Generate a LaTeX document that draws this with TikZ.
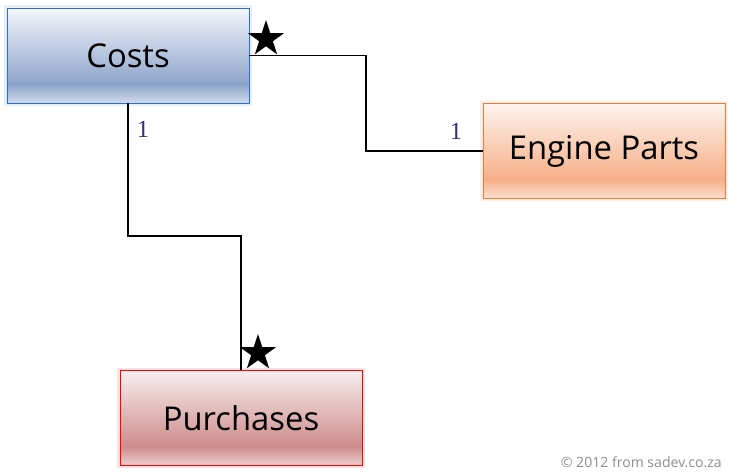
\documentclass[tikz,border=0pt]{standalone}
\usepackage{fontspec}
\setmainfont{Open Sans}
\newfontfamily\labelfont{Liberation Serif}
\usetikzlibrary{shapes.geometric}

\definecolor{costs_line}{HTML}{2A6FE0}
\definecolor{costs_top}{HTML}{F4F6FB}
\definecolor{costs_mid}{HTML}{8DA4CA}
\definecolor{costs_low}{HTML}{D3DBEA}
\definecolor{engine_line}{HTML}{F07A35}
\definecolor{engine_top}{HTML}{FEF4EE}
\definecolor{engine_mid}{HTML}{F6AF87}
\definecolor{engine_low}{HTML}{FBE0D0}
\definecolor{purchase_line}{HTML}{FF0000}
\definecolor{purchase_top}{HTML}{F8EEEE}
\definecolor{purchase_mid}{HTML}{CE8C8C}
\definecolor{purchase_low}{HTML}{EBD0D0}
\definecolor{mult_text}{HTML}{3C2A7A}

\pgfdeclareverticalshading{costsshade}{100bp}{color(0bp)=(costs_low); color(25bp)=(costs_low); color(35bp)=(costs_mid); color(75bp)=(costs_top); color(100bp)=(costs_top)}
\pgfdeclareverticalshading{engineshade}{100bp}{color(0bp)=(engine_low); color(25bp)=(engine_low); color(35bp)=(engine_mid); color(75bp)=(engine_top); color(100bp)=(engine_top)}
\pgfdeclareverticalshading{purchaseshade}{100bp}{color(0bp)=(purchase_low); color(25bp)=(purchase_low); color(35bp)=(purchase_mid); color(75bp)=(purchase_top); color(100bp)=(purchase_top)}

\tikzset{
  entity_box/.style={rectangle, minimum width=7.26cm, minimum height=2.85cm,
    inner sep=0pt, line width=0.8pt, font=\fontsize{28}{33}\selectfont},
  link_line/.style={black, line width=1.7pt},
  star_tip/.style={star, star points=5, star point ratio=2.618, fill=black,
    inner sep=0pt, minimum size=1.14cm},
  mult_label/.style={text=mult_text, font=\labelfont\fontsize{21}{24}\selectfont, inner sep=0pt}
}

\begin{document}
\begin{tikzpicture}[x=0.03cm, y=-0.03cm]
  \useasboundingbox (0,0) rectangle (733,474);
  % draw entity boxes
  \node[entity_box, draw=costs_line, shading=costsshade,
    preaction={draw=costs_line!12, line width=5pt}] (costs) at (128,55.5) {Costs};
  \node[entity_box, draw=engine_line, shading=engineshade,
    preaction={draw=engine_line!12, line width=5pt}] (engine_parts) at (604,151) {Engine Parts};
  \node[entity_box, draw=purchase_line, shading=purchaseshade,
    preaction={draw=purchase_line!12, line width=5pt}] (purchases) at (241,418) {Purchases};
  % draw links between entities
  \coordinate (bend_engine) at (366,151);
  \coordinate (bend_purchase) at (241,236);
  \draw[link_line] (costs.east) -| (bend_engine) -- (engine_parts.west);
  \draw[link_line] (costs.south) |- (bend_purchase) -- (purchases.north);
  % draw multiplicities
  \node[star_tip] (costs_star) at (266,39) {};
  \node[star_tip] (purchases_star) at (258,353) {};
  \node[mult_label] (costs_one) at (143,129) {1};
  \node[mult_label] (engine_one) at (456,131) {1};
  % draw copyright note
  \node[anchor=base east, text=black!45, inner sep=0pt, font=\fontsize{12}{14}\selectfont]
    (copyright_note) at (722,467) {© 2012 from sadev.co.za};
\end{tikzpicture}
\end{document}
